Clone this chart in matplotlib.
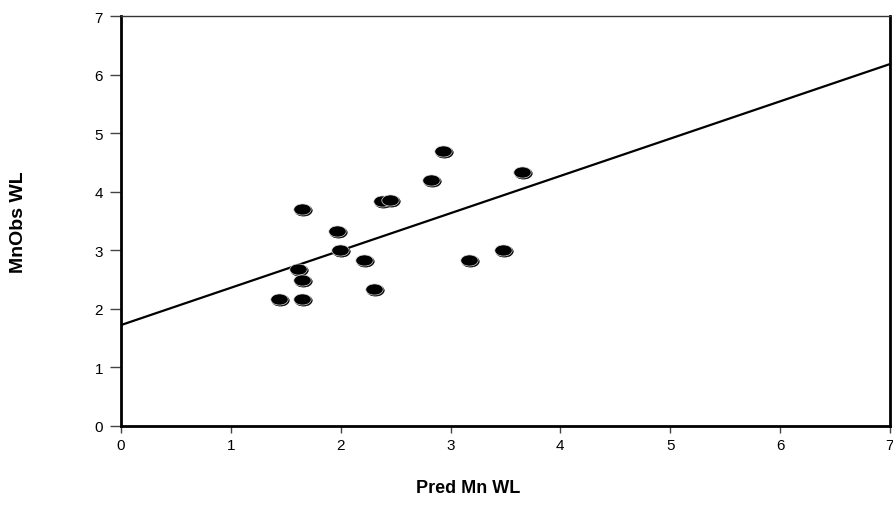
import matplotlib.pyplot as plt
import matplotlib.transforms as mtransforms
from matplotlib.path import Path
import numpy as np

# observed vs predicted values
pred_mn_wl = [1.44, 1.65, 1.61, 1.65, 1.65, 1.97, 1.99, 2.21, 2.30,
              2.38, 2.45, 2.82, 2.93, 3.17, 3.48, 3.65]
mnobs_wl = [2.17, 2.17, 2.68, 2.49, 3.70, 3.33, 3.00, 2.83, 2.34,
            3.84, 3.86, 4.20, 4.70, 2.83, 3.00, 4.33]

# fitted line
intercept = 1.72
slope = 0.637

ticks = [0, 1, 2, 3, 4, 5, 6, 7]

plt.rcParams['font.family'] = ['Liberation Sans', 'DejaVu Sans']

fig = plt.figure(figsize=(8.93, 5.10), dpi=100)
ax = fig.add_axes([0.1355, 0.1633, 0.861, 0.8033])

# regression line
xl = np.array([0, 7])
ax.plot(xl, intercept + slope * xl, color='black', lw=1.6, zorder=2)

# ellipse marker with a faint highlight edge
ell = Path.unit_circle().transformed(mtransforms.Affine2D().scale(1.0, 0.64))
shadow = ax.transData + mtransforms.ScaledTranslation(1 / 100, -1 / 100, fig.dpi_scale_trans)
ax.plot(pred_mn_wl, mnobs_wl, ls='none', marker=ell, ms=12.5, mfc='black',
        mec='black', mew=0.5, transform=shadow, zorder=3)
ax.plot(pred_mn_wl, mnobs_wl, ls='none', marker=ell, ms=12.5, mfc='black',
        mec='#dddddd', mew=0.5, zorder=4)

ax.set_xlim(0, 7)
ax.set_ylim(0, 7)
ax.set_xticks(ticks)
ax.set_yticks(ticks)
ax.tick_params(direction='out', width=1, color='#444444', labelsize=11)
ax.tick_params(axis='x', length=5, pad=3.5)
ax.tick_params(axis='y', length=8, pad=5)
for s in ax.spines.values():
    s.set_linewidth(2)
ax.spines['top'].set_linewidth(1)
ax.spines['top'].set_color('#333333')

fig.text(0.524, 0.025, 'Pred Mn WL', ha='center', va='bottom',
         fontsize=13, fontweight='bold')
fig.text(0.021, 0.565, 'MnObs WL', ha='center', va='center', rotation=90,
         fontsize=14, fontweight='bold')

plt.savefig('out.png', dpi=100)
